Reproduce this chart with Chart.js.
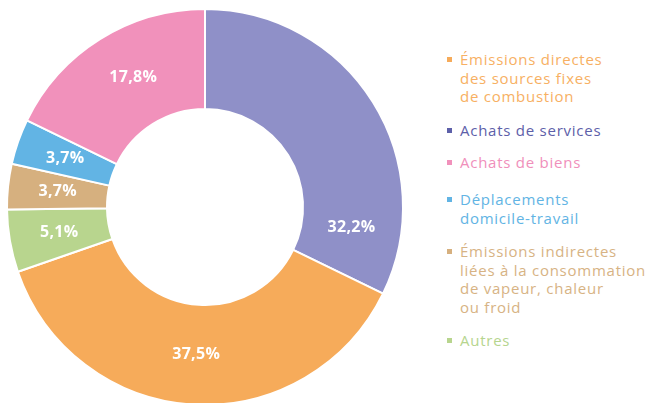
<!DOCTYPE html>
<html><head><meta charset="utf-8">
<script src="https://cdn.jsdelivr.net/npm/chart.js@4.4.0/dist/chart.umd.min.js"></script>
<style>
html,body{margin:0;padding:0;background:#fff;width:651px;height:403px;overflow:hidden;}
#wrap{position:absolute;left:0;top:0;width:410px;height:414px;}
#legend{position:absolute;left:447px;top:0;font-family:"Open Sans",sans-serif;font-size:15px;line-height:18.5px;letter-spacing:0.75px;}
.item{position:absolute;left:0;white-space:nowrap;}
.sq{position:absolute;left:0;top:7px;width:5px;height:5px;}
.txt{position:absolute;left:13px;top:0;}
</style></head><body>
<div id="wrap"><canvas id="c"></canvas></div>
<div id="legend"></div>
<script>
const categories = ["Achats de services","Émissions directes des sources fixes de combustion","Autres","Émissions indirectes liées à la consommation de vapeur, chaleur ou froid","Déplacements domicile-travail","Achats de biens"];
const values = [32.2, 37.5, 5.1, 3.7, 3.7, 17.8];
const valueLabels = ["32,2%","37,5%","5,1%","3,7%","3,7%","17,8%"];
const sliceColors = ["#8f90c8","#f6ab5a","#b8d58e","#d6b07f","#62b4e4","#f191bb"];

const legendLines = [
  ["Émissions directes","des sources fixes","de combustion"],
  ["Achats de services"],
  ["Achats de biens"],
  ["Déplacements","domicile-travail"],
  ["Émissions indirectes","liées à la consommation","de vapeur, chaleur","ou froid"],
  ["Autres"]
];
const legendTextColors = ["#f7b063","#5d60a9","#f08fbb","#62b4e4","#d7b384","#b6d58e"];
const legendSquareColors = ["#f6ab5a","#5d60a9","#f191bb","#62b4e4","#d6b07f","#b8d58e"];

// HTML legend
const legendTops = [50, 121, 153, 190, 242, 331];
const lg = document.getElementById('legend');
legendLines.forEach((lines,i)=>{
  const d = document.createElement('div');
  d.className='item'; d.style.top = legendTops[i]+'px';
  const sq = document.createElement('div'); sq.className='sq'; sq.style.background = legendSquareColors[i];
  const t = document.createElement('div'); t.className='txt'; t.style.color = legendTextColors[i];
  t.innerHTML = lines.join('<br>');
  d.appendChild(sq); d.appendChild(t); lg.appendChild(d);
});

const labelPlugin = {
  id:'sliceLabels',
  afterDatasetsDraw(chart, args, opts){
    const ctx = chart.ctx;
    const meta = chart.getDatasetMeta(0);
    ctx.save();
    ctx.fillStyle = '#ffffff';
    ctx.font = 'bold 16px "Open Sans", sans-serif';
    if ('letterSpacing' in ctx) ctx.letterSpacing = '0.3px';
    ctx.textAlign = 'center'; ctx.textBaseline = 'middle';
    meta.data.forEach((arc,i)=>{
      const p = arc.getProps(['x','y','startAngle','endAngle','innerRadius','outerRadius'], true);
      let a = (p.startAngle + p.endAngle)/2;
      if (opts.angleOverride && opts.angleOverride[i] != null) a = (opts.angleOverride[i]-90)*Math.PI/180;
      const r = (p.innerRadius + p.outerRadius)/2;
      ctx.fillText(valueLabels[i], p.x + Math.cos(a)*r, p.y + Math.sin(a)*r);
    });
    ctx.restore();
  }
};

new Chart(document.getElementById('c'), {
  type:'doughnut',
  data:{ labels:categories, datasets:[{ data:values, backgroundColor:sliceColors, borderColor:'#ffffff', borderWidth:2 }]},
  options:{
    responsive:true, maintainAspectRatio:false, animation:false,
    cutout:'49.5%',
    layout:{padding:{left:6,right:6,top:8,bottom:8}},
    plugins:{ legend:{display:false}, tooltip:{enabled:false}, sliceLabels:{angleOverride:[98,null,null,null,null,331]} }
  },
  plugins:[labelPlugin]
});
</script>
</body></html>
